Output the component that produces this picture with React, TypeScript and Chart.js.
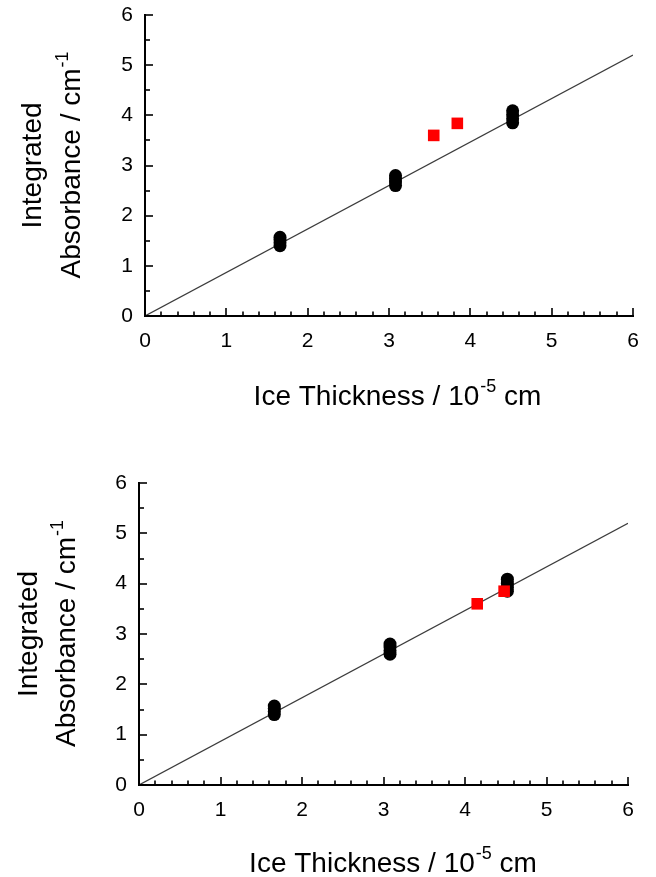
import React, { useEffect, useRef } from "react";
import { Chart, registerables } from "chart.js";

Chart.register(...registerables);

// ---------- data ----------
const xTickValues = [0, 1, 2, 3, 4, 5, 6];
const yTickValues = [0, 1, 2, 3, 4, 5, 6];

const thicknessBlack = [1.66, 1.66, 1.66, 1.66, 3.08, 3.08, 3.08, 3.08, 4.52, 4.52, 4.52, 4.52];
const absorbanceBlack = [1.40, 1.46, 1.52, 1.57, 2.60, 2.67, 2.74, 2.80, 3.85, 3.93, 4.01, 4.09];

const thicknessRedTop = [3.55, 3.84];
const absorbanceRedTop = [3.60, 3.84];

const thicknessRedBottom = [4.15, 4.48];
const absorbanceRedBottom = [3.60, 3.85];

const fitThickness = [0, 6];
const fitAbsorbance = [0, 5.2];

const xTitleMain = "Ice Thickness / 10";
const xTitleSup = "-5";
const xTitleEnd = " cm";
const yTitleLine1 = "Integrated";
const yTitleLine2 = "Absorbance / cm";
const yTitleSup = "-1";

const FONT = "'Liberation Sans', Arial, sans-serif";

type Geo = {
  width: number;
  height: number;
  left: number;
  right: number;
  top: number;
  bottom: number;
  yTitle1X: number;
  yTitle2X: number;
  xTitleY: number;
  xTitleShift: number;
};

const pts = (xs: number[], ys: number[]) => xs.map((x, i) => ({ x, y: ys[i] }));

const axesPlugin = (geo: Geo) => ({
  id: "customAxes",
  afterDraw(chart: any) {
    const ctx = chart.ctx as CanvasRenderingContext2D;
    const xs = chart.scales.x;
    const ys = chart.scales.y;
    const x0 = xs.getPixelForValue(0);
    const x6 = xs.getPixelForValue(6);
    const y0 = ys.getPixelForValue(0);
    const y6 = ys.getPixelForValue(6);
    ctx.save();
    ctx.strokeStyle = "#000";
    ctx.lineWidth = 2;
    ctx.lineCap = "square";
    ctx.beginPath();
    ctx.moveTo(x0, y6);
    ctx.lineTo(x0, y0);
    ctx.lineTo(x6, y0);
    ctx.stroke();
    ctx.lineWidth = 1.6;
    ctx.lineCap = "butt";
    // x ticks every 0.2, pointing up
    for (let i = 1; i <= 30; i++) {
      const v = i * 0.2;
      const px = Math.round(xs.getPixelForValue(v));
      const major = i % 5 === 0;
      ctx.beginPath();
      ctx.moveTo(px, y0);
      ctx.lineTo(px, y0 - (major ? 8 : 4.5));
      ctx.stroke();
    }
    // y ticks every 0.5, pointing right
    for (let i = 1; i <= 12; i++) {
      const v = i * 0.5;
      const py = Math.round(ys.getPixelForValue(v));
      const major = i % 2 === 0;
      ctx.beginPath();
      ctx.moveTo(x0, py);
      ctx.lineTo(x0 + (major ? 8 : 5), py);
      ctx.stroke();
    }
    // titles
    ctx.fillStyle = "#000";
    ctx.textBaseline = "alphabetic";
    const mainFont = `28px ${FONT}`;
    const supFont = `18px ${FONT}`;
    // x title
    ctx.font = mainFont;
    const w1 = ctx.measureText(xTitleMain).width;
    const w3 = ctx.measureText(xTitleEnd).width;
    ctx.font = supFont;
    const w2 = ctx.measureText(xTitleSup).width;
    const total = w1 + w2 + w3;
    const cx = (x0 + x6) / 2 + geo.xTitleShift;
    const sx = cx - total / 2;
    ctx.textAlign = "left";
    ctx.font = mainFont;
    ctx.fillText(xTitleMain, sx, geo.xTitleY);
    ctx.font = supFont;
    ctx.fillText(xTitleSup, sx + w1 + 1, geo.xTitleY - 13);
    ctx.font = mainFont;
    ctx.fillText(xTitleEnd, sx + w1 + w2 + 1, geo.xTitleY);
    // y title
    const cy = (y0 + y6) / 2;
    ctx.save();
    ctx.translate(geo.yTitle1X, cy);
    ctx.rotate(-Math.PI / 2);
    ctx.textAlign = "center";
    ctx.font = mainFont;
    ctx.fillText(yTitleLine1, 0, 0);
    ctx.restore();
    ctx.save();
    ctx.translate(geo.yTitle2X, cy);
    ctx.rotate(-Math.PI / 2);
    ctx.textAlign = "left";
    ctx.font = mainFont;
    const a1 = ctx.measureText(yTitleLine2).width;
    ctx.font = supFont;
    const a2 = ctx.measureText(yTitleSup).width;
    const at = a1 + a2;
    ctx.font = mainFont;
    ctx.fillText(yTitleLine2, -at / 2, 0);
    ctx.font = supFont;
    ctx.fillText(yTitleSup, -at / 2 + a1 + 1, -12);
    ctx.restore();
    ctx.restore();
  },
});

function ScatterPanel(props: { geo: Geo; redX: number[]; redY: number[]; style: React.CSSProperties }) {
  const ref = useRef<HTMLCanvasElement>(null);
  const { geo, redX, redY } = props;
  useEffect(() => {
    if (!ref.current) return;
    const chart = new Chart(ref.current, {
      type: "scatter",
      data: {
        datasets: [
          {
            label: "red",
            data: pts(redX, redY),
            pointStyle: "rect",
            pointRadius: 8.2,
            pointBorderWidth: 0,
            backgroundColor: "#ff0000",
            borderColor: "#ff0000",
            borderWidth: 0,
            order: 0,
          } as any,
          {
            label: "black",
            data: pts(thicknessBlack, absorbanceBlack),
            pointStyle: "circle",
            pointRadius: 6.5,
            pointBorderWidth: 0,
            backgroundColor: "#000",
            borderColor: "#000",
            borderWidth: 0,
            order: 1,
          } as any,
          {
            type: "line",
            label: "fit",
            data: pts(fitThickness, fitAbsorbance),
            showLine: true,
            pointRadius: 0,
            borderColor: "#3c3c3c",
            borderWidth: 1.2,
            fill: false,
            order: 2,
          } as any,
        ],
      },
      options: {
        animation: false,
        responsive: false,
        events: [],
        layout: {
          padding: { top: geo.top, right: geo.width - geo.right, left: 0, bottom: 0 },
        },
        plugins: { legend: { display: false }, tooltip: { enabled: false } },
        scales: {
          x: {
            type: "linear",
            min: 0,
            max: 6,
            afterBuildTicks: (s: any) => {
              s.ticks = xTickValues.map((v) => ({ value: v }));
            },
            afterFit: (s: any) => {
              s.height = geo.height - geo.bottom;
            },
            ticks: {
              color: "#000",
              font: { size: 21, family: FONT },
              padding: 0,
              maxRotation: 0,
              autoSkip: false,
              callback: (v: any) => String(v),
            },
            grid: { display: false, drawTicks: true, tickLength: 13 },
            border: { display: false },
          },
          y: {
            type: "linear",
            min: 0,
            max: 6,
            afterBuildTicks: (s: any) => {
              s.ticks = yTickValues.map((v) => ({ value: v }));
            },
            afterFit: (s: any) => {
              s.width = geo.left;
            },
            ticks: {
              color: "#000",
              font: { size: 21, family: FONT },
              padding: 0,
              autoSkip: false,
              callback: (v: any) => String(v),
            },
            grid: { display: false, drawTicks: true, tickLength: 12 },
            border: { display: false },
          },
        },
      } as any,
      plugins: [axesPlugin(geo)],
    });
    return () => chart.destroy();
  }, []);
  return <canvas ref={ref} width={geo.width} height={geo.height} style={{ position: "absolute", display: "block", ...props.style }} />;
}

const topGeo: Geo = {
  width: 656,
  height: 430,
  left: 145,
  right: 633,
  top: 15,
  bottom: 316,
  yTitle1X: 41,
  yTitle2X: 80,
  xTitleY: 405,
  xTitleShift: 8,
};

const bottomGeo: Geo = {
  width: 656,
  height: 447,
  left: 139,
  right: 628,
  top: 53,
  bottom: 355,
  yTitle1X: 37,
  yTitle2X: 75,
  xTitleY: 442,
  xTitleShift: 9,
};

export default function App() {
  return (
    <div style={{ position: "absolute", left: 0, top: 0, width: 656, height: 877, background: "#fff" }}>
      <ScatterPanel geo={topGeo} redX={thicknessRedTop} redY={absorbanceRedTop} style={{ left: 0, top: 0 }} />
      <ScatterPanel geo={bottomGeo} redX={thicknessRedBottom} redY={absorbanceRedBottom} style={{ left: 0, top: 430 }} />
    </div>
  );
}
